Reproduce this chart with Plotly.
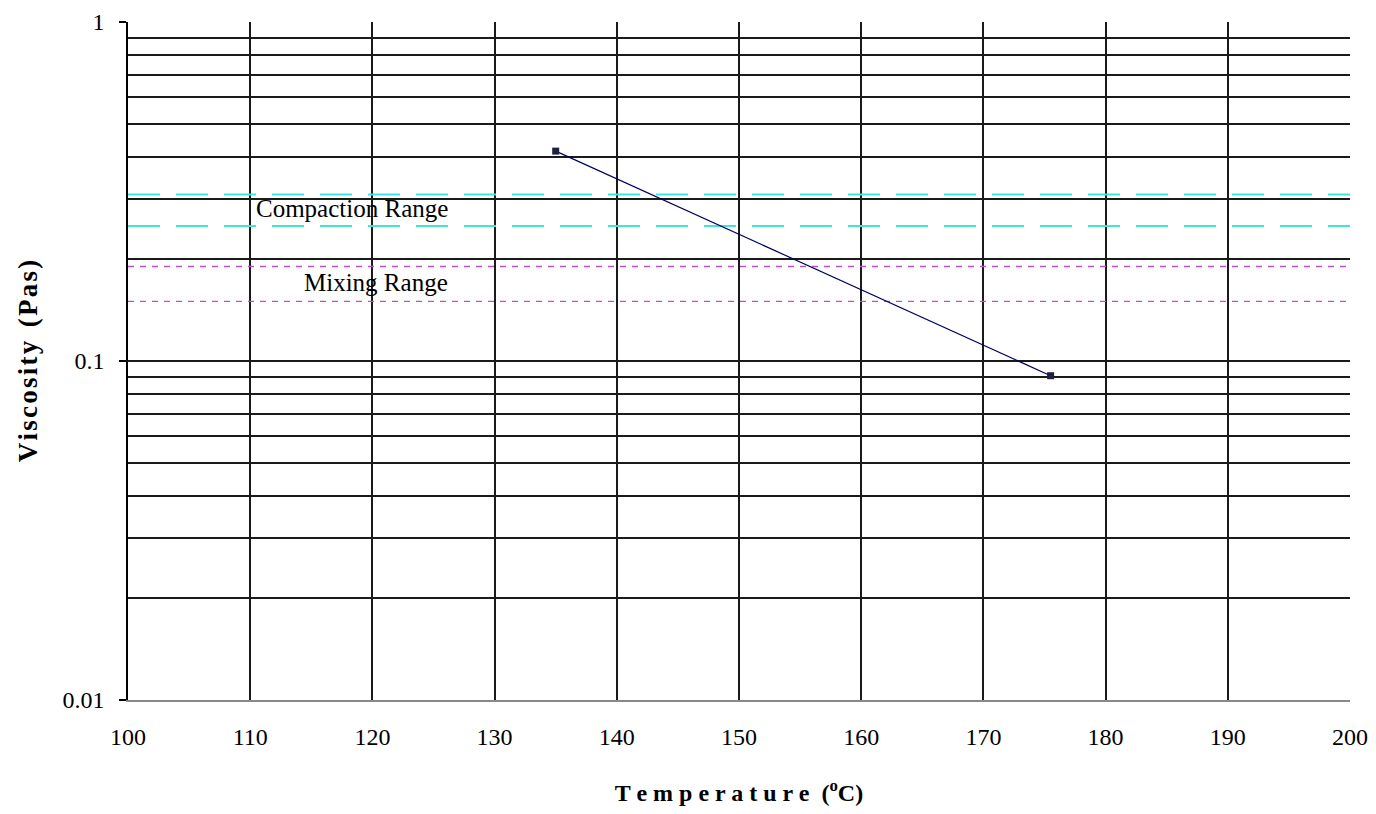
import math
import plotly.graph_objects as go

# Measured viscosity vs. temperature
temperature = [135, 175.5]
viscosity = [0.416, 0.0905]

# Equiviscous ranges (Pa·s)
compaction_range = [0.25, 0.31]
mixing_range = [0.15, 0.19]
x_span = [100, 200]

x_ticks = [100, 110, 120, 130, 140, 150, 160, 170, 180, 190, 200]
y_major = [0.01, 0.1, 1]
y_major_text = ["0.01", "0.1", "1"]
y_minor = [m * d for d in (0.01, 0.1) for m in range(2, 10)]

SERIF = "Liberation Serif, Times New Roman, serif"
HAIR = "\u200a"


def spaced(s):
    return HAIR.join(s)


fig = go.Figure()

for level in compaction_range:
    fig.add_trace(go.Scatter(
        x=x_span, y=[level, level], mode="lines",
        line=dict(color="#40E4DC", width=2, dash="32px,16px"),
        hoverinfo="skip", showlegend=False,
    ))

for level in mixing_range:
    fig.add_trace(go.Scatter(
        x=x_span, y=[level, level], mode="lines",
        line=dict(color="#C050C0", width=1.3, dash="6px,6px"),
        hoverinfo="skip", showlegend=False,
    ))

fig.add_trace(go.Scatter(
    x=temperature, y=viscosity, mode="lines+markers",
    line=dict(color="#000060", width=1.2),
    marker=dict(symbol="square", size=7, color="#202040"),
    showlegend=False,
))

# range labels (annotation y on a log axis is given as log10)
fig.add_annotation(x=118.3, y=math.log10(0.281), xref="x", yref="y",
                   yanchor="middle", text="Compaction Range", showarrow=False,
                   font=dict(family=SERIF, size=25, color="#000"))
fig.add_annotation(x=120.3, y=math.log10(0.170), xref="x", yref="y",
                   yanchor="middle", text="Mixing Range", showarrow=False,
                   font=dict(family=SERIF, size=25, color="#000"))

fig.update_layout(
    width=1376, height=814,
    margin=dict(l=128, r=26, t=22, b=114),
    paper_bgcolor="white", plot_bgcolor="white",
    font=dict(family=SERIF, size=24, color="#000"),
    xaxis=dict(
        range=[100, 200], tickmode="array", tickvals=x_ticks,
        ticks="", ticklabelstandoff=14, automargin=False,
        tickfont=dict(family=SERIF, size=24),
        showgrid=True, gridcolor="#1a1a1a", gridwidth=1.6,
        showline=True, linecolor="#888", linewidth=1.5,
        zeroline=False,
        title=dict(text="<b>T e m p e r a t u r e  (<sup>o</sup>C)</b>",
                   font=dict(family=SERIF, size=24), standoff=36),
    ),
    yaxis=dict(
        type="log", range=[-2, 0], automargin=False,
        tickmode="array", tickvals=y_major, ticktext=y_major_text,
        ticks="outside", ticklen=7, tickcolor="#000", tickwidth=1.5,
        ticklabelstandoff=10,
        tickfont=dict(family=SERIF, size=24),
        showgrid=True, gridcolor="#1a1a1a", gridwidth=1.6,
        minor=dict(tickmode="array", tickvals=y_minor, ticks="",
                   showgrid=True, gridcolor="#1a1a1a", gridwidth=1.6),
        showline=True, linecolor="#000", linewidth=1.6,
        zeroline=False,
        title=dict(text="<b>" + spaced("Viscosity") + "  " + spaced("(Pas)") + "</b>",
                   font=dict(family=SERIF, size=27), standoff=17),
    ),
    yaxis2=dict(
        type="log", range=[-2, 0], overlaying="y", side="right",
        automargin=False,
        showline=True, linecolor="#999", linewidth=1.5,
        showgrid=False, showticklabels=False, ticks="", zeroline=False,
    ),
)

fig.write_html("out.html")
